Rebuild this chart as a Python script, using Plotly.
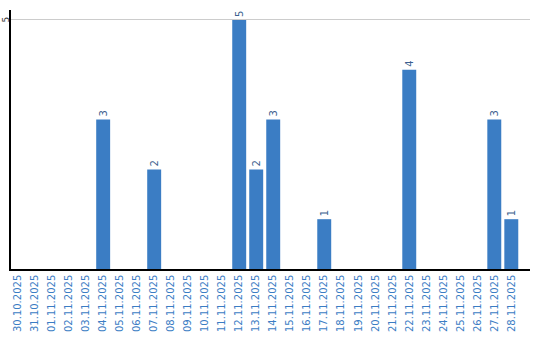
import plotly.graph_objects as go

dates = ["30.10.2025", "31.10.2025", "01.11.2025", "02.11.2025", "03.11.2025",
         "04.11.2025", "05.11.2025", "06.11.2025", "07.11.2025", "08.11.2025",
         "09.11.2025", "10.11.2025", "11.11.2025", "12.11.2025", "13.11.2025",
         "14.11.2025", "15.11.2025", "16.11.2025", "17.11.2025", "18.11.2025",
         "19.11.2025", "20.11.2025", "21.11.2025", "22.11.2025", "23.11.2025",
         "24.11.2025", "25.11.2025", "26.11.2025", "27.11.2025", "28.11.2025"]
counts = [0, 0, 0, 0, 0, 3, 0, 0, 2, 0, 0, 0, 0, 5, 2, 3, 0, 0, 1, 0,
          0, 0, 0, 4, 0, 0, 0, 0, 3, 1]
y_ticks = [5]
labels = [str(v) if v else "" for v in counts]

fig = go.Figure(go.Bar(
    x=dates, y=counts, text=labels, textposition="outside", textangle=-90,
    marker=dict(color="#3b7dc4", line=dict(width=0)),
    textfont=dict(family="DejaVu Sans", size=10, color="#3d5f8f"),
    cliponaxis=False, hoverinfo="skip",
))
fig.update_layout(
    width=540, height=340, margin=dict(l=11, r=10, t=10, b=71),
    paper_bgcolor="white", plot_bgcolor="white", showlegend=False,
    bargap=0.18,
    font=dict(family="DejaVu Sans", size=10, color="#3b7dc4"),
)
fig.update_xaxes(type="category", range=[-0.42, 30.1], tickangle=-90,
                 showline=True, linecolor="black", linewidth=1.5,
                 showgrid=False, ticks="", automargin=False,
                 tickfont=dict(size=10, color="#3b7dc4"))
fig.update_yaxes(range=[0, 5.2], tickvals=y_ticks, showticklabels=False,
                 showline=True, linecolor="black", linewidth=1.5,
                 showgrid=True, gridcolor="#cccccc", gridwidth=1, zeroline=False,
                 ticks="", automargin=False)
for t in y_ticks:
    fig.add_annotation(x=0, xref="paper", y=t, yref="y", text=str(t),
                       textangle=-90, showarrow=False, xanchor="center",
                       yanchor="middle", xshift=-5.5, borderpad=0,
                       font=dict(family="DejaVu Sans", size=9, color="#333333"))
fig.write_html("out.html")
